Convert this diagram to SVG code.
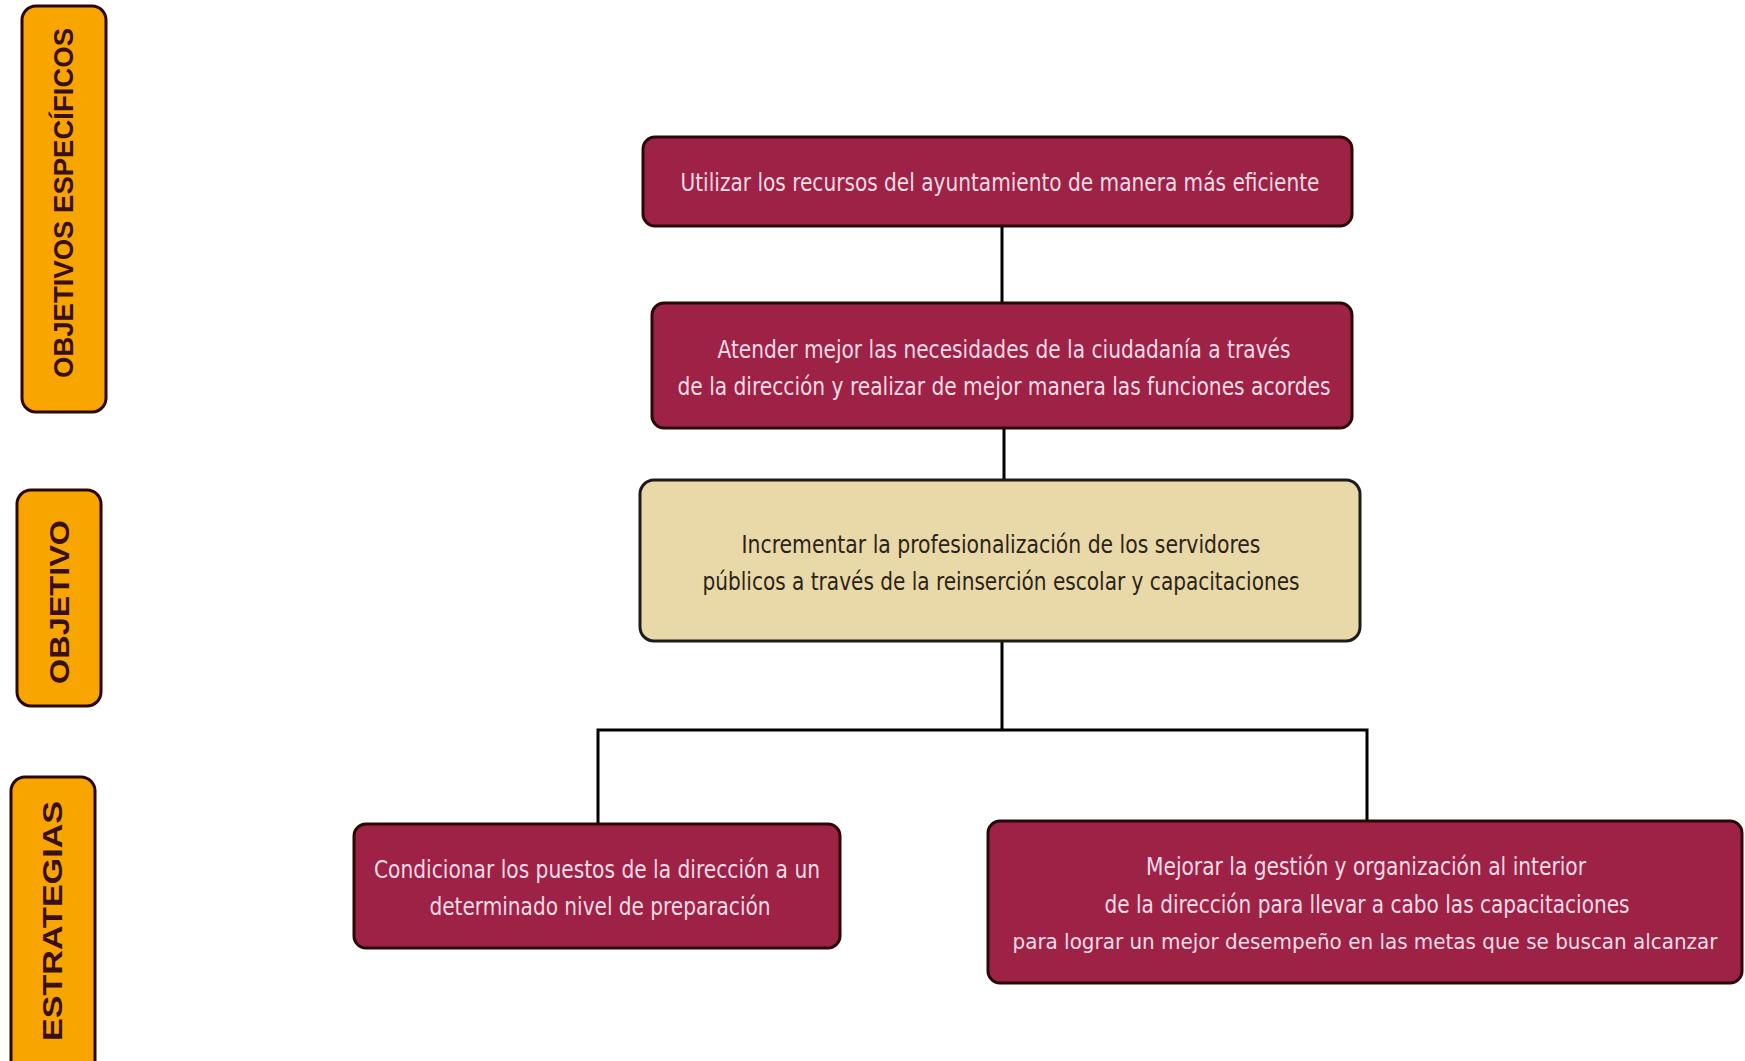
<svg xmlns="http://www.w3.org/2000/svg" width="1745" height="1061" viewBox="0 0 1745 1061">
<style>
.lbl{fill:#f8a500;stroke:#2a0808;stroke-width:3}
.lt{font-family:"Liberation Sans",Arial,sans-serif;font-weight:bold;font-size:27px;fill:#3a0f0f}
.mb{fill:#9e2246;stroke:#2a0808;stroke-width:3}
.bb{fill:#e9d8a8;stroke:#1c1c1c;stroke-width:3}
.tw{font-family:"DejaVu Sans","Liberation Sans",sans-serif;font-size:24px;font-stretch:condensed;fill:#f6dbe6;text-anchor:middle}
.td{font-family:"DejaVu Sans","Liberation Sans",sans-serif;font-size:24px;font-stretch:condensed;fill:#2a2418;text-anchor:middle}
.c{stroke:#000;stroke-width:3;fill:none}
</style>
<rect width="1745" height="1061" fill="#fff"/>
<g id="label-objetivos-especificos">
<rect class="lbl" x="22" y="6" width="84" height="406" rx="14"/>
<text class="lt" transform="translate(64,203) rotate(-90)" text-anchor="middle" dominant-baseline="central" textLength="350" lengthAdjust="spacingAndGlyphs">OBJETIVOS ESPECÍFICOS</text>
</g>
<g id="label-objetivo">
<rect class="lbl" x="17" y="490" width="84" height="216" rx="14"/>
<text class="lt" transform="translate(60,602) rotate(-90)" text-anchor="middle" dominant-baseline="central" textLength="164" lengthAdjust="spacingAndGlyphs">OBJETIVO</text>
</g>
<g id="label-estrategias">
<rect class="lbl" x="11" y="777" width="84" height="300" rx="14"/>
<text class="lt" transform="translate(53,921) rotate(-90)" text-anchor="middle" dominant-baseline="central" textLength="240" lengthAdjust="spacingAndGlyphs">ESTRATEGIAS</text>
</g>
<g id="connectors">
<line class="c" x1="1002" y1="226" x2="1002" y2="303"/>
<line class="c" x1="1004" y1="428" x2="1004" y2="480"/>
<line class="c" x1="1002" y1="641" x2="1002" y2="730"/>
<polyline class="c" points="598,824 598,730 1367,730 1367,821"/>
</g>
<g id="node-utilizar">
<rect class="mb" x="643" y="137" width="709" height="89" rx="12"/>
<text class="tw" x="1000" y="191" textLength="639" lengthAdjust="spacingAndGlyphs">Utilizar los recursos del ayuntamiento de manera más eficiente</text>
</g>
<g id="node-atender">
<rect class="mb" x="652" y="303" width="700" height="125" rx="12"/>
<text class="tw" x="1004" y="358" textLength="573" lengthAdjust="spacingAndGlyphs">Atender mejor las necesidades de la ciudadanía a través</text>
<text class="tw" x="1004" y="395" textLength="653" lengthAdjust="spacingAndGlyphs">de la dirección y realizar de mejor manera las funciones acordes</text>
</g>
<g id="node-incrementar">
<rect class="bb" x="640" y="480" width="720" height="161" rx="14"/>
<text class="td" x="1001" y="553" textLength="519" lengthAdjust="spacingAndGlyphs">Incrementar la profesionalización de los servidores</text>
<text class="td" x="1001" y="590" textLength="597" lengthAdjust="spacingAndGlyphs">públicos a través de la reinserción escolar y capacitaciones</text>
</g>
<g id="node-condicionar">
<rect class="mb" x="354" y="824" width="486" height="124" rx="12"/>
<text class="tw" x="597" y="878" textLength="446" lengthAdjust="spacingAndGlyphs">Condicionar los puestos de la dirección a un</text>
<text class="tw" x="600" y="915" textLength="341" lengthAdjust="spacingAndGlyphs">determinado nivel de preparación</text>
</g>
<g id="node-mejorar">
<rect class="mb" x="988" y="821" width="754" height="162" rx="12"/>
<text class="tw" x="1366" y="875" textLength="440" lengthAdjust="spacingAndGlyphs">Mejorar la gestión y organización al interior</text>
<text class="tw" x="1367" y="913" textLength="525" lengthAdjust="spacingAndGlyphs">de la dirección para llevar a cabo las capacitaciones</text>
<text class="tw" x="1365" y="949" style="font-size:22px" textLength="705" lengthAdjust="spacingAndGlyphs">para lograr un mejor desempeño en las metas que se buscan alcanzar</text>
</g>
</svg>
